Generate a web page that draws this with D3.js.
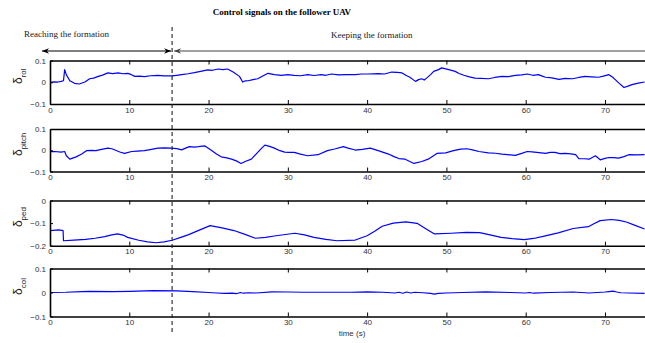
<!DOCTYPE html>
<html>
<head>
<meta charset="utf-8">
<script src="https://cdn.jsdelivr.net/npm/d3@7"></script>
<style>
  body { margin: 0; background: #fff; }
  svg { display: block; }
  .tick text { font-family: "Liberation Sans", Arial, sans-serif; font-size: 8px; fill: #333; }
</style>
</head>
<body>
<svg id="fig" width="645" height="343"></svg>
<script>
// [time (s), value] samples for each control signal
var rolData = [[0,0.000],[0.5,0.002],[1.0,0.001],[1.4,0.004],[1.7,0.007],[1.85,0.058],[2.05,0.035],[2.5,0.007],[3.1,-0.005],[3.7,-0.008],[4.4,0.001],[5.0,0.016],[5.5,0.019],[6.1,0.027],[6.7,0.034],[7.3,0.043],[7.9,0.040],[8.6,0.043],[9.2,0.039],[9.8,0.041],[10.2,0.036],[10.7,0.027],[11.3,0.028],[11.9,0.026],[12.7,0.030],[13.6,0.032],[14.4,0.029],[15.3,0.029],[16.0,0.032],[16.6,0.035],[17.4,0.039],[18.2,0.044],[19.0,0.050],[19.9,0.057],[20.5,0.055],[21.2,0.061],[21.8,0.058],[22.4,0.061],[23.1,0.047],[23.9,0.027],[24.3,0.001],[24.6,0.006],[25.0,0.007],[25.6,0.012],[26.2,0.016],[26.9,0.030],[27.5,0.041],[28.3,0.035],[29.2,0.032],[30.0,0.035],[30.8,0.032],[31.6,0.030],[32.5,0.035],[33.3,0.031],[34.2,0.035],[34.8,0.032],[35.5,0.038],[36.4,0.034],[37.4,0.035],[38.5,0.035],[39.3,0.038],[40.2,0.038],[41.4,0.040],[42.2,0.038],[43.1,0.047],[43.8,0.045],[44.4,0.043],[45.0,0.030],[45.4,0.023],[45.8,0.012],[46.1,0.004],[46.5,0.012],[46.9,0.016],[47.2,0.010],[47.5,0.019],[48.0,0.035],[48.4,0.050],[49.0,0.058],[49.4,0.066],[50.3,0.058],[51.1,0.050],[51.6,0.040],[52.2,0.032],[52.9,0.025],[53.6,0.019],[54.4,0.018],[55.3,0.016],[56.1,0.022],[57.0,0.027],[57.8,0.026],[58.7,0.032],[59.5,0.034],[60.2,0.038],[60.9,0.032],[61.6,0.035],[62.1,0.028],[62.5,0.023],[63.3,0.020],[64.2,0.013],[65.0,0.018],[65.9,0.016],[66.7,0.022],[67.5,0.027],[68.3,0.025],[69.2,0.023],[69.8,0.028],[70.5,0.035],[70.9,0.025],[71.3,0.012],[71.8,-0.005],[72.4,-0.024],[72.9,-0.018],[73.4,-0.011],[74.2,-0.004],[75.0,0.001]];

var pitchData = [[0,-0.006],[0.6,-0.006],[1.4,-0.009],[1.85,-0.006],[2.06,-0.026],[2.5,-0.042],[3.3,-0.031],[4.0,-0.018],[4.6,-0.002],[5.2,-0.001],[5.8,-0.002],[6.5,0.004],[7.3,0.010],[7.8,0.007],[8.2,0.001],[8.8,-0.008],[9.4,-0.015],[10.3,-0.006],[11.0,-0.004],[11.9,-0.002],[12.8,0.004],[13.6,0.010],[14.5,0.011],[15.3,0.010],[16.0,0.008],[16.6,0.002],[17.1,0.010],[17.6,0.017],[18.2,0.015],[18.7,0.017],[19.5,0.021],[20.3,0.001],[21.0,-0.018],[21.6,-0.031],[22.3,-0.036],[22.9,-0.042],[23.5,-0.050],[24.1,-0.062],[24.7,-0.052],[25.4,-0.042],[26.2,-0.010],[26.7,0.010],[27.1,0.024],[27.7,0.018],[28.3,0.010],[29.0,-0.002],[29.6,-0.009],[30.2,-0.010],[30.8,-0.010],[31.6,-0.018],[32.5,-0.026],[33.8,-0.021],[35.0,-0.002],[35.9,0.006],[37.0,0.017],[37.6,0.010],[38.5,0.001],[39.4,0.004],[40.4,0.010],[41.4,-0.002],[42.7,-0.018],[43.4,-0.030],[44.0,-0.039],[44.8,-0.042],[45.9,-0.062],[46.9,-0.053],[47.7,-0.042],[48.8,-0.015],[49.9,-0.012],[50.9,-0.002],[51.8,0.005],[52.6,0.007],[53.3,0.002],[54.1,-0.006],[55.3,-0.012],[56.2,-0.014],[57.0,-0.018],[58.7,-0.024],[59.5,-0.015],[60.2,-0.006],[60.8,-0.008],[61.4,-0.010],[62.5,-0.015],[63.1,-0.010],[63.7,-0.010],[64.3,-0.016],[65.0,-0.015],[65.7,-0.017],[66.3,-0.021],[66.7,-0.039],[67.4,-0.040],[68.0,-0.042],[68.8,-0.026],[69.4,-0.045],[70.0,-0.038],[70.5,-0.034],[71.1,-0.035],[71.7,-0.037],[72.4,-0.030],[73.0,-0.021],[74.0,-0.022],[75.0,-0.021]];

var pedData = [[0,-0.133],[1.1,-0.130],[1.65,-0.133],[1.7,-0.178],[3.0,-0.175],[4.5,-0.172],[5.7,-0.167],[6.9,-0.160],[7.8,-0.152],[8.5,-0.148],[9.2,-0.153],[9.8,-0.163],[11.2,-0.176],[12.3,-0.183],[13.4,-0.187],[14.4,-0.183],[15.4,-0.176],[16.5,-0.163],[17.5,-0.151],[18.9,-0.130],[20.2,-0.111],[21.7,-0.121],[23.2,-0.133],[24.6,-0.150],[25.9,-0.167],[27.2,-0.163],[28.5,-0.156],[30.9,-0.145],[32.1,-0.152],[33.3,-0.163],[34.8,-0.172],[36.2,-0.178],[38.5,-0.175],[40.0,-0.156],[41.0,-0.135],[41.9,-0.114],[43.3,-0.100],[44.9,-0.095],[46.3,-0.101],[47.4,-0.125],[48.5,-0.148],[50.6,-0.145],[52.5,-0.141],[54.2,-0.142],[55.5,-0.152],[56.9,-0.163],[58.3,-0.169],[59.8,-0.173],[61.0,-0.168],[62.2,-0.159],[64.1,-0.143],[66.0,-0.124],[67.9,-0.116],[68.6,-0.103],[69.4,-0.089],[70.8,-0.084],[71.8,-0.088],[72.7,-0.095],[73.8,-0.110],[75.0,-0.126]];

var colData = [[0,0.000],[2,0.001],[4,0.004],[5,0.005],[8,0.004],[10,0.005],[13,0.008],[16,0.007],[18,0.004],[20,0.000],[21,-0.002],[22,-0.004],[23,-0.003],[23.5,-0.005],[24,0.000],[24.4,-0.003],[25,-0.001],[26,-0.002],[28,0.003],[30,0.002],[32,0.001],[34,0.001],[36,0.001],[38,0.001],[40,0.003],[42,0.001],[43.5,-0.002],[44,0.001],[44.5,-0.003],[45,0.002],[45.5,-0.002],[46,0.001],[47,-0.001],[48,-0.004],[48.5,-0.007],[49,-0.004],[50,-0.002],[52,0.000],[55,0.003],[58,0.000],[60,-0.002],[60.5,0.000],[61,-0.003],[63,0.000],[66,0.002],[68,-0.002],[70,0.002],[70.5,0.004],[71,0.006],[71.5,0.002],[72,-0.001],[73,-0.002],[75,-0.004]];

var timeTicks = [0, 10, 20, 30, 40, 50, 60, 70];
var switchTime = 15.4;   // start of the keeping phase

var svg = d3.select("#fig");
var x = d3.scaleLinear().domain([0, 75]).range([50, 644.6]);

var panels = [
  {data: rolData,   sub: "rol",   dom: [-0.1, 0.1], ticks: [-0.1, 0, 0.1], top: 60.5, bottom: 104},
  {data: pitchData, sub: "pitch", dom: [-0.1, 0.1], ticks: [-0.1, 0, 0.1], top: 129,  bottom: 171.5},
  {data: pedData,   sub: "ped",   dom: [-0.2, 0],   ticks: [-0.2, -0.1, 0], top: 200.5, bottom: 245.7},
  {data: colData,   sub: "col",   dom: [-0.1, 0.1], ticks: [-0.1, 0, 0.1], top: 268.5, bottom: 316.5}
];

panels.forEach(function(p) {
  var y = d3.scaleLinear().domain(p.dom).range([p.bottom, p.top]);
  var g = svg.append("g");

  var line = d3.line()
    .x(function(d){ return x(d[0]); })
    .y(function(d){ return y(d[1]); });

  g.append("path")
    .datum(p.data)
    .attr("d", line)
    .attr("fill", "none")
    .attr("stroke", "#0000ff")
    .attr("stroke-width", 1.2)
    .attr("stroke-linejoin", "round");

  // bottom axis with labels, top axis ticks only, both pointing inward
  var bx = g.append("g").attr("transform", "translate(0," + p.bottom + ")")
    .call(d3.axisBottom(x).tickValues(timeTicks).tickSizeInner(-4).tickSizeOuter(0).tickPadding(3).tickFormat(d3.format("d")));
  var tx = g.append("g").attr("transform", "translate(0," + p.top + ")")
    .call(d3.axisTop(x).tickValues(timeTicks).tickSizeInner(-4).tickSizeOuter(0).tickFormat(""));
  var ly = g.append("g").attr("transform", "translate(50,0)")
    .call(d3.axisLeft(y).tickValues(p.ticks).tickSizeInner(-3).tickSizeOuter(0).tickPadding(4).tickFormat(d3.format("")));

  [bx, tx, ly].forEach(function(a) {
    a.select(".domain").attr("stroke", "#000").attr("stroke-width", 1.6);
    a.selectAll(".tick line").attr("stroke", "#000").attr("stroke-width", 1);
  });

  // rotated delta label with subscript
  var lab = g.append("text")
    .attr("transform", "translate(22," + ((p.top + p.bottom) / 2 - 6) + ") rotate(-90)")
    .attr("text-anchor", "middle")
    .attr("font-family", "'Liberation Sans', Arial, sans-serif")
    .attr("fill", "#222");
  lab.append("tspan").attr("font-size", 12).text("δ");
  lab.append("tspan").attr("font-size", 8).attr("dy", 4).text(p.sub);
});

svg.append("text")
  .attr("x", 282).attr("y", 15)
  .attr("text-anchor", "middle")
  .attr("font-family", "'Liberation Serif', 'Times New Roman', serif")
  .attr("font-weight", "bold")
  .attr("font-size", 9)
  .text("Control signals on the follower UAV");

svg.append("text")
  .attr("x", 352).attr("y", 336)
  .attr("text-anchor", "middle")
  .attr("font-family", "'Liberation Sans', Arial, sans-serif")
  .attr("font-size", 8)
  .attr("fill", "#333")
  .text("time (s)");

// phase annotations
var xs = x(switchTime);
svg.append("line")
  .attr("x1", xs).attr("x2", xs).attr("y1", 27).attr("y2", 332)
  .attr("stroke", "#222").attr("stroke-width", 1.1)
  .attr("stroke-dasharray", "4,3");

svg.append("text")
  .attr("x", 24).attr("y", 37)
  .attr("font-family", "'Liberation Serif', 'Times New Roman', serif")
  .attr("font-size", 9).attr("fill", "#222")
  .text("Reaching the formation");
svg.append("text")
  .attr("x", 331).attr("y", 38)
  .attr("font-family", "'Liberation Serif', 'Times New Roman', serif")
  .attr("font-size", 9).attr("fill", "#222")
  .text("Keeping the formation");

var defs = svg.append("defs");
function marker(id, color) {
  defs.append("marker")
    .attr("id", id)
    .attr("viewBox", "0 -5 10 10")
    .attr("refX", 10).attr("refY", 0)
    .attr("markerUnits", "userSpaceOnUse")
    .attr("markerWidth", 9).attr("markerHeight", 7)
    .attr("orient", "auto-start-reverse")
    .append("path")
    .attr("d", "M0,-4L10,0L0,4L3,0Z")
    .attr("fill", color);
}
marker("headDark", "#000");
marker("headGray", "#444");

svg.append("line")
  .attr("x1", 42).attr("x2", xs - 1).attr("y1", 51).attr("y2", 51)
  .attr("stroke", "#000").attr("stroke-width", 1.2)
  .attr("marker-start", "url(#headDark)")
  .attr("marker-end", "url(#headDark)");
svg.append("line")
  .attr("x1", xs + 2).attr("x2", 650).attr("y1", 51).attr("y2", 51)
  .attr("stroke", "#444").attr("stroke-width", 1.2)
  .attr("marker-start", "url(#headGray)");
</script>
</body>
</html>
